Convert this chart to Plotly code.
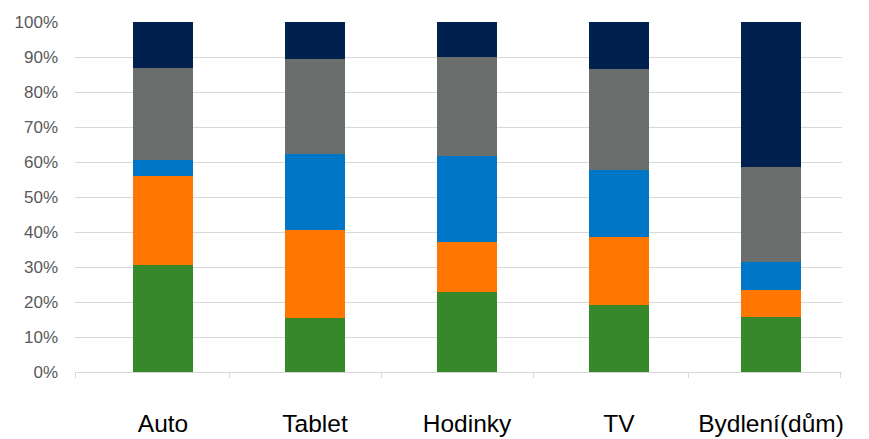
import plotly.graph_objects as go

# Categories and stacked shares (percent of each column)
categories = ["Auto", "Tablet", "Hodinky", "TV", "Bydlení(dům)"]
positions = [0, 1, 2, 3, 4]

seg_green = [30.6, 15.4, 22.8, 19.2, 15.8]
seg_orange = [25.5, 25.2, 14.3, 19.5, 7.5]
seg_blue = [4.6, 21.8, 24.5, 18.9, 8.0]
seg_gray = [26.2, 26.9, 28.3, 29.1, 27.4]
seg_navy = [13.1, 10.7, 10.1, 13.3, 41.3]

y_ticks = [0, 10, 20, 30, 40, 50, 60, 70, 80, 90, 100]

series = [
    ("Segment 1", seg_green, "#37882A"),
    ("Segment 2", seg_orange, "#FF7600"),
    ("Segment 3", seg_blue, "#0077C6"),
    ("Segment 4", seg_gray, "#6A6E6C"),
    ("Segment 5", seg_navy, "#00214D"),
]

fig = go.Figure()
for name, vals, color in series:
    fig.add_trace(go.Bar(
        x=positions, y=vals, name=name,
        marker=dict(color=color, line=dict(width=0)),
        width=0.395,
    ))

font_family = "Arial, Liberation Sans, sans-serif"

fig.update_layout(
    barmode="stack",
    width=869, height=439,
    margin=dict(l=75, r=27, t=22, b=67, pad=0),
    paper_bgcolor="white", plot_bgcolor="white",
    showlegend=False,
    font=dict(family=font_family),
    xaxis=dict(
        range=[-0.579, 4.467],
        automargin=False,
        tickmode="array", tickvals=positions, ticktext=categories,
        ticks="", showgrid=False, zeroline=False,
        showline=True, linecolor="#d9d9d9", linewidth=1,
        tickfont=dict(size=24.5, color="#000000", family=font_family),
        ticklabelstandoff=30,
        minor=dict(
            tickvals=[-0.577, 0.44, 1.44, 2.44, 3.455, 4.455],
            ticks="outside", ticklen=5, tickcolor="#d9d9d9", tickwidth=1,
            showgrid=False,
        ),
    ),
    yaxis=dict(
        range=[0, 100],
        automargin=False,
        tickmode="array", tickvals=y_ticks,
        ticktext=[f"{v}%" for v in y_ticks],
        showgrid=True, gridcolor="#d9d9d9", gridwidth=1,
        zeroline=False, ticks="",
        tickfont=dict(size=17, color="#595959", family=font_family),
        ticklabelstandoff=16,
    ),
)

fig.write_html("out.html")
